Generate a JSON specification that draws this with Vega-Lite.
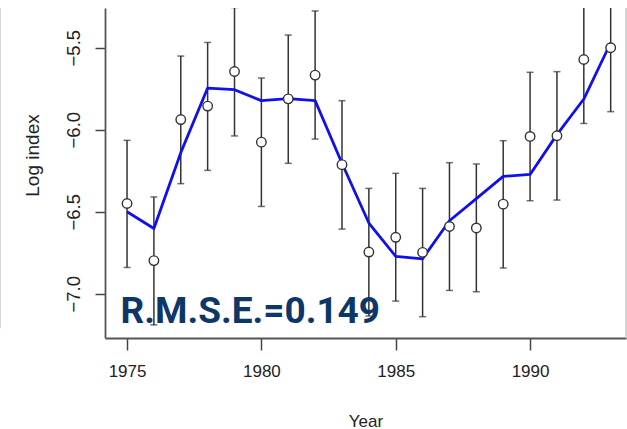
{
  "$schema": "https://vega.github.io/schema/vega-lite/v6.json",
  "width": 521,
  "height": 330,
  "autosize": {"type": "none"},
  "padding": {"left": 105, "top": 8, "right": 1, "bottom": 91},
  "background": "white",
  "config": {
    "view": {"stroke": null},
    "font": "Liberation Sans"
  },
  "datasets": {
    "index": [
      {"year": 1975, "obs": -6.450, "lo": -6.840, "hi": -6.065, "fit": -6.500},
      {"year": 1976, "obs": -6.798, "lo": -7.190, "hi": -6.410, "fit": -6.602},
      {"year": 1977, "obs": -5.938, "lo": -6.329, "hi": -5.551, "fit": -6.140},
      {"year": 1978, "obs": -5.856, "lo": -6.248, "hi": -5.468, "fit": -5.746},
      {"year": 1979, "obs": -5.645, "lo": -6.038, "hi": -5.255, "fit": -5.756},
      {"year": 1980, "obs": -6.076, "lo": -6.468, "hi": -5.685, "fit": -5.823},
      {"year": 1981, "obs": -5.812, "lo": -6.205, "hi": -5.423, "fit": -5.811},
      {"year": 1982, "obs": -5.667, "lo": -6.057, "hi": -5.276, "fit": -5.823},
      {"year": 1983, "obs": -6.213, "lo": -6.606, "hi": -5.823, "fit": -6.205},
      {"year": 1984, "obs": -6.746, "lo": -7.136, "hi": -6.358, "fit": -6.569},
      {"year": 1985, "obs": -6.656, "lo": -7.045, "hi": -6.266, "fit": -6.772},
      {"year": 1986, "obs": -6.748, "lo": -7.140, "hi": -6.358, "fit": -6.787},
      {"year": 1987, "obs": -6.590, "lo": -6.980, "hi": -6.201, "fit": -6.555},
      {"year": 1988, "obs": -6.599, "lo": -6.988, "hi": -6.209, "fit": -6.420},
      {"year": 1989, "obs": -6.454, "lo": -6.843, "hi": -6.067, "fit": -6.285},
      {"year": 1990, "obs": -6.041, "lo": -6.433, "hi": -5.650, "fit": -6.273},
      {"year": 1991, "obs": -6.037, "lo": -6.429, "hi": -5.646, "fit": -6.030},
      {"year": 1992, "obs": -5.572, "lo": -5.962, "hi": -5.182, "fit": -5.813},
      {"year": 1993, "obs": -5.500, "lo": -5.890, "hi": -5.110, "fit": -5.470}
    ],
    "frame": [
      {"year": 1970.27, "top": -5.258, "bottom": -7.21},
      {"year": 1993.57, "top": -5.258, "bottom": -7.27}
    ],
    "note": [
      {"year": 1974.76, "value": -7.177, "label": "R.M.S.E.=0.149"}
    ]
  },
  "layer": [
    {
      "data": {"name": "frame"},
      "mark": {"type": "rule", "clip": false, "color": "#c4c4c4", "strokeWidth": 1.5},
      "encoding": {
        "x": {"field": "year", "type": "quantitative", "scale": {"domain": [1974.18, 1993.57], "nice": false, "zero": false}},
        "y": {"field": "top", "type": "quantitative"},
        "y2": {"field": "bottom"}
      }
    },
    {
      "data": {"name": "index"},
      "mark": {"type": "rule", "clip": true, "color": "#333333", "strokeWidth": 1.5},
      "encoding": {
        "x": {
          "field": "year", "type": "quantitative",
          "scale": {"domain": [1974.18, 1993.57], "nice": false, "zero": false},
          "axis": {
            "title": "Year",
            "values": [1975, 1980, 1985, 1990],
            "format": "d",
            "grid": false,
            "domainColor": "#555555",
            "domainWidth": 1.8,
            "tickColor": "#444444",
            "tickWidth": 1.5,
            "tickSize": 12,
            "labelFont": "Liberation Sans",
            "labelFontSize": 17,
            "labelColor": "#222222",
            "labelPadding": 13,
            "labelFlush": false,
            "titleFont": "Liberation Sans",
            "titleFontSize": 17,
            "titleFontWeight": "normal",
            "titleColor": "#222222",
            "titleBaseline": "alphabetic",
            "titleY": 88
          }
        },
        "y": {
          "field": "lo", "type": "quantitative",
          "scale": {"domain": [-7.27, -5.258], "nice": false, "zero": false},
          "axis": {
            "title": "Log index",
            "values": [-7.0, -6.5, -6.0, -5.5],
            "format": ".1f",
            "grid": false,
            "domainColor": "#555555",
            "domainWidth": 1.8,
            "tickColor": "#444444",
            "tickWidth": 1.5,
            "tickSize": 10,
            "labelAngle": 270,
            "labelFont": "Liberation Sans",
            "labelFontSize": 18.5,
            "labelColor": "#222222",
            "labelPadding": 12,
            "labelFlush": false,
            "titleFont": "Liberation Sans",
            "titleFontSize": 19,
            "titleFontWeight": "normal",
            "titleColor": "#222222",
            "titleAngle": 270,
            "titleAlign": "center",
            "titleBaseline": "middle",
            "titleX": -73,
            "titleY": 147
          }
        },
        "y2": {"field": "hi"}
      }
    },
    {
      "data": {"name": "index"},
      "mark": {"type": "tick", "clip": true, "orient": "horizontal", "color": "#333333", "size": 7, "thickness": 1.5},
      "encoding": {
        "x": {"field": "year", "type": "quantitative"},
        "y": {"field": "lo", "type": "quantitative"}
      }
    },
    {
      "data": {"name": "index"},
      "mark": {"type": "tick", "clip": true, "orient": "horizontal", "color": "#333333", "size": 7, "thickness": 1.5},
      "encoding": {
        "x": {"field": "year", "type": "quantitative"},
        "y": {"field": "hi", "type": "quantitative"}
      }
    },
    {
      "data": {"name": "index"},
      "mark": {"type": "line", "clip": true, "color": "#1010ee", "strokeWidth": 2.8, "strokeJoin": "round"},
      "encoding": {
        "x": {"field": "year", "type": "quantitative"},
        "y": {"field": "fit", "type": "quantitative"}
      }
    },
    {
      "data": {"name": "index"},
      "mark": {"type": "point", "shape": "circle", "filled": false, "fill": "white", "fillOpacity": 1, "stroke": "#333333", "strokeWidth": 1.4, "size": 90, "opacity": 1},
      "encoding": {
        "x": {"field": "year", "type": "quantitative"},
        "y": {"field": "obs", "type": "quantitative"}
      }
    },
    {
      "data": {"name": "note"},
      "mark": {"type": "text", "align": "left", "baseline": "alphabetic", "font": "Roboto", "fontWeight": "bold", "fontSize": 37, "color": "#0c3768"},
      "encoding": {
        "x": {"field": "year", "type": "quantitative"},
        "y": {"field": "value", "type": "quantitative"},
        "text": {"field": "label"}
      }
    }
  ]
}
